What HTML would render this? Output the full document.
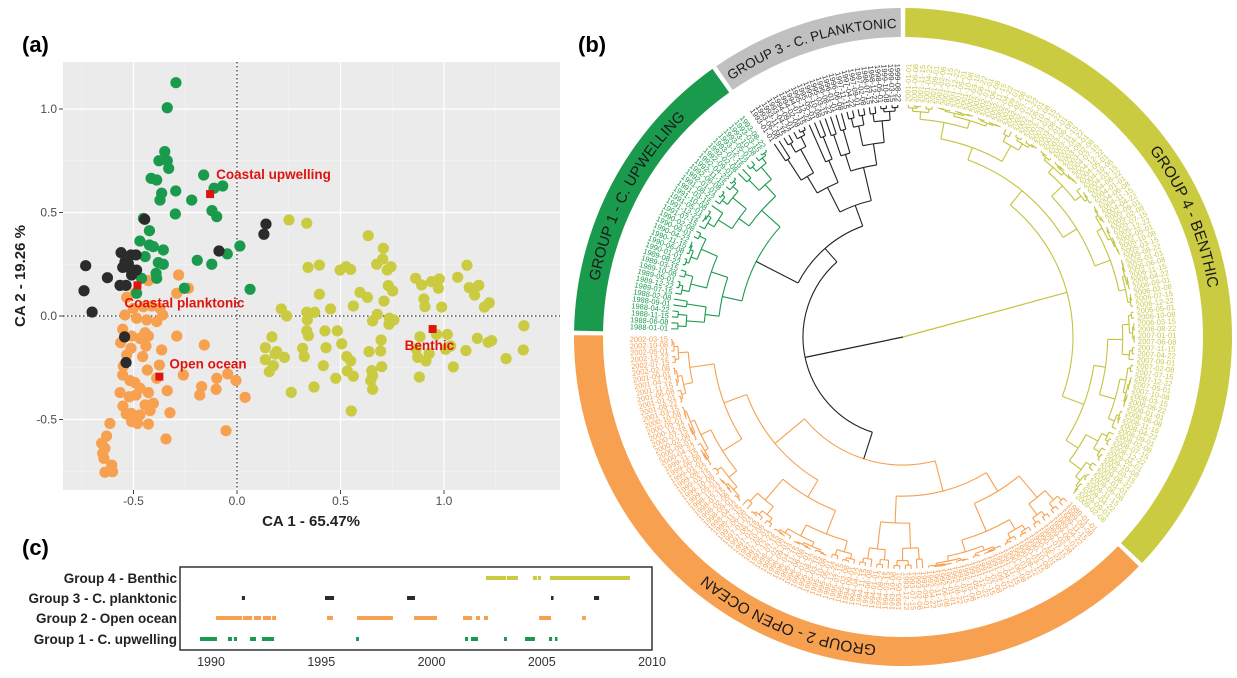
<!DOCTYPE html>
<html><head><meta charset="utf-8"><style>
html,body{margin:0;padding:0;background:#fff;}
svg{display:block;font-family:"Liberation Sans",sans-serif;}
</style></head><body>
<svg id="fig" width="1237" height="678" viewBox="0 0 1237 678">
<g id="pa"></g>
<g id="pb"></g>
<g id="pc"></g>
<text x="22" y="52" font-size="22" font-weight="bold">(a)</text>
<text x="578" y="52" font-size="22" font-weight="bold">(b)</text>
<text x="22" y="555" font-size="22" font-weight="bold">(c)</text>
</svg>
<script>
// ---------- Panel (a) data ----------
const greenX=[-0.295,-0.337,-0.349,-0.377,-0.337,-0.330,-0.415,-0.388,-0.364,-0.372,-0.296,-0.219,-0.161,-0.111,-0.069,-0.121,-0.098,-0.298,-0.452,-0.423,-0.469,-0.423,-0.404,-0.356,-0.444,-0.380,-0.356,-0.192,-0.122,-0.047,0.014,-0.391,-0.388,-0.461,-0.254,0.063,-0.485];
const greenY=[1.127,1.006,0.794,0.750,0.750,0.713,0.665,0.657,0.593,0.560,0.604,0.560,0.681,0.617,0.628,0.509,0.480,0.493,0.472,0.412,0.362,0.343,0.335,0.319,0.287,0.258,0.250,0.269,0.250,0.300,0.338,0.206,0.182,0.182,0.134,0.129,0.110];
const blackX=[-0.446,0.140,0.130,-0.087,-0.731,-0.560,-0.512,-0.488,-0.541,-0.552,-0.517,-0.485,-0.509,-0.626,-0.565,-0.536,-0.739,-0.700,-0.543,-0.536,-0.525];
const blackY=[0.467,0.444,0.395,0.314,0.243,0.306,0.295,0.295,0.262,0.235,0.230,0.222,0.198,0.185,0.148,0.148,0.122,0.019,-0.101,-0.225,0.254];
const orangeX=[-0.282,-0.291,-0.235,-0.428,-0.533,-0.493,-0.501,-0.452,-0.412,-0.372,-0.541,-0.485,-0.436,-0.388,-0.359,-0.552,-0.562,-0.509,-0.469,-0.444,-0.428,-0.440,-0.512,-0.456,-0.364,-0.291,-0.158,-0.533,-0.549,-0.552,-0.517,-0.493,-0.469,-0.433,-0.375,-0.388,-0.428,-0.337,-0.565,-0.520,-0.488,-0.551,-0.512,-0.535,-0.444,-0.404,-0.420,-0.469,-0.324,-0.509,-0.481,-0.428,-0.614,-0.630,-0.654,-0.638,-0.649,-0.643,-0.605,-0.638,-0.601,-0.343,-0.259,-0.180,-0.171,-0.098,-0.045,-0.005,-0.101,0.039,-0.053];
const orangeY=[0.198,0.110,0.134,0.171,0.090,0.110,0.037,0.045,0.048,0.037,0.005,-0.011,-0.019,-0.027,0.005,-0.064,-0.129,-0.097,-0.108,-0.081,-0.097,-0.145,-0.156,-0.196,-0.164,-0.097,-0.140,-0.188,-0.242,-0.285,-0.312,-0.322,-0.349,-0.261,-0.237,-0.301,-0.370,-0.361,-0.370,-0.390,-0.382,-0.435,-0.470,-0.473,-0.430,-0.422,-0.457,-0.478,-0.467,-0.510,-0.519,-0.522,-0.519,-0.580,-0.615,-0.639,-0.663,-0.688,-0.720,-0.755,-0.752,-0.594,-0.285,-0.382,-0.341,-0.301,-0.280,-0.312,-0.354,-0.393,-0.554];
const yellowX=[0.251,0.337,0.634,0.707,0.704,0.675,0.726,0.744,0.343,0.398,0.498,0.527,0.549,0.863,0.892,0.940,0.977,0.973,1.066,1.111,1.122,1.168,1.148,1.219,1.195,0.989,0.903,0.908,0.731,0.752,0.710,0.594,0.630,0.562,0.398,0.452,0.214,0.240,0.337,0.375,0.340,0.678,0.655,0.736,0.758,0.734,0.337,0.345,0.425,0.485,0.169,0.137,0.192,0.184,0.229,0.137,0.176,0.156,0.317,0.325,0.430,0.506,0.530,0.549,0.417,0.533,0.562,0.477,0.372,0.262,0.552,0.638,0.694,0.696,0.699,0.651,0.655,0.646,0.655,0.884,0.964,1.016,1.008,1.032,0.865,0.928,0.873,0.913,0.881,1.045,1.106,1.161,1.214,1.230,1.300,1.383,1.386];
const yellowY=[0.464,0.448,0.388,0.327,0.275,0.250,0.222,0.238,0.235,0.246,0.222,0.238,0.225,0.182,0.150,0.166,0.179,0.134,0.187,0.245,0.137,0.148,0.101,0.064,0.043,0.043,0.082,0.045,0.147,0.121,0.072,0.114,0.090,0.048,0.105,0.034,0.034,0.000,0.018,0.018,-0.019,0.008,-0.024,-0.011,-0.019,-0.040,-0.072,-0.095,-0.072,-0.072,-0.101,-0.153,-0.172,-0.184,-0.200,-0.211,-0.240,-0.269,-0.156,-0.196,-0.153,-0.134,-0.196,-0.217,-0.240,-0.266,-0.291,-0.301,-0.343,-0.369,-0.459,-0.172,-0.169,-0.116,-0.245,-0.264,-0.288,-0.312,-0.354,-0.100,-0.089,-0.089,-0.161,-0.145,-0.159,-0.182,-0.200,-0.217,-0.295,-0.246,-0.167,-0.108,-0.127,-0.119,-0.206,-0.164,-0.047];
const centroidNames=["Coastal upwelling","Coastal planktonic","Open ocean","Benthic"];
const centroidX=[-0.130,-0.481,-0.375,0.945];
const centroidY=[0.589,0.148,-0.293,-0.063];
const xTicks=[-0.5,0.0,0.5,1.0];
const yTicks=[-0.5,0.0,0.5,1.0];
const xTickLabels=["-0.5","0.0","0.5","1.0"];
const yTickLabels=["-0.5","0.0","0.5","1.0"];

// ---------- Panel (c) data ----------
const groupNames=["Group 4 - Benthic","Group 3 - C. planktonic","Group 2 - Open ocean","Group 1 - C. upwelling"];
const g4Start=[2002.47,2003.42,2004.6,2004.83,2005.37];
const g4End=[2003.38,2003.92,2004.78,2004.97,2009.0];
const g3Start=[1991.4,1995.17,1998.89,2005.42,2007.37];
const g3End=[1991.54,1995.58,1999.25,2005.51,2007.6];
const g2Start=[1990.23,1991.45,1991.95,1992.36,1992.77,1995.26,1996.62,1999.21,2001.43,2002.02,2002.38,2004.88,2006.83];
const g2End=[1991.41,1991.86,1992.27,1992.72,1992.95,1995.53,1998.25,2000.25,2001.84,2002.2,2002.56,2005.42,2007.0];
const g1Start=[1989.5,1990.77,1991.04,1991.77,1992.31,1996.58,2001.52,2001.79,2003.29,2004.24,2005.33,2005.6];
const g1End=[1990.27,1990.95,1991.18,1992.04,1992.86,1996.71,2001.66,2002.11,2003.42,2004.69,2005.47,2005.69];
const yearTicks=[1990,1995,2000,2005,2010];

// ---------- Panel (b) data ----------
const ringNames=["GROUP 1 - C. UPWELLING","GROUP 3 - C. PLANKTONIC","GROUP 4 - BENTHIC","GROUP 2 - OPEN OCEAN"];
const ringStart=[180.7,235,270,43.8];
const ringEnd=[235,270,403.8,180.7];
const leafCounts=[36,24,90,95];

const NS="http://www.w3.org/2000/svg";
function mk(parent,tag,attrs){const e=document.createElementNS(NS,tag);for(const k in attrs)e.setAttribute(k,attrs[k]);parent.appendChild(e);return e;}

// ===== Panel A =====
(function(){
const pa=document.getElementById('pa');
const L=63,R=560,T=62,B=490,X0=237,Y0=316,S=207;
const sx=v=>X0+v*S, sy=v=>Y0-v*S;
const bg=mk(pa,'rect',{x:L,y:T,width:R-L,height:B-T,fill:'#ebebeb'});


[-0.75,-0.25,0.25,0.75,1.25].forEach(v=>{const l=mk(pa,'line',{x1:sx(v),x2:sx(v),y1:T,y2:B,stroke:'#f5f5f5','stroke-width':0.6});});
[-0.75,-0.25,0.25,0.75].forEach(v=>{const l=mk(pa,'line',{x1:L,x2:R,y1:sy(v),y2:sy(v),stroke:'#f5f5f5','stroke-width':0.6});});
xTicks.forEach((v,i)=>{const l=mk(pa,'line',{x1:sx(v),x2:sx(v),y1:T,y2:B,stroke:'#fff','stroke-width':1.2});
 const tk=mk(pa,'line',{x1:sx(v),x2:sx(v),y1:B,y2:B+4,stroke:'#444'});
 const t=mk(pa,'text',{x:sx(v),y:B+15,'font-size':12,'text-anchor':'middle',fill:'#4d4d4d'});t.textContent=xTickLabels[i];});
yTicks.forEach((v,i)=>{const l=mk(pa,'line',{x1:L,x2:R,y1:sy(v),y2:sy(v),stroke:'#fff','stroke-width':1.2});
 const tk=mk(pa,'line',{x1:L-4,x2:L,y1:sy(v),y2:sy(v),stroke:'#444'});
 const t=mk(pa,'text',{x:L-6,y:sy(v)+4,'font-size':12,'text-anchor':'end',fill:'#4d4d4d'});t.textContent=yTickLabels[i];});
const zx=mk(pa,'line',{x1:sx(0),x2:sx(0),y1:T,y2:B,stroke:'#333','stroke-dasharray':'1.5,2.5','stroke-width':1.2});
const zy=mk(pa,'line',{x1:L,x2:R,y1:sy(0),y2:sy(0),stroke:'#333','stroke-dasharray':'1.5,2.5','stroke-width':1.2});
function pts(X,Y,col,name){X.forEach((v,i)=>{const c=mk(pa,'circle',{cx:sx(v),cy:sy(Y[i]),r:5.6,fill:col});});}
pts(orangeX,orangeY,'#f7a04f','point-open-ocean');
pts(yellowX,yellowY,'#cbcb42','point-benthic');
pts(greenX,greenY,'#1a9a4d','point-coastal-upwelling');
pts(blackX,blackY,'#2b2b2b','point-coastal-planktonic');
const off=[[6,-15],[-13,22],[10,-8],[-28,21]];
centroidX.forEach((v,i)=>{const r=mk(pa,'rect',{x:sx(v)-4,y:sy(centroidY[i])-4,width:8,height:8,fill:'#e0140f'});
 const t=mk(pa,'text',{x:sx(v)+off[i][0],y:sy(centroidY[i])+off[i][1],'font-size':13.5,'font-weight':'bold',fill:'#e0140f'});t.textContent=centroidNames[i];});
const xt=mk(pa,'text',{x:311,y:526,'font-size':15,'font-weight':'bold','text-anchor':'middle',fill:'#222'});xt.textContent='CA 1 - 65.47%';
const yt=mk(pa,'text',{x:0,y:0,'font-size':15,'font-weight':'bold','text-anchor':'middle',fill:'#222',transform:'translate(25,276) rotate(-90)'});yt.textContent='CA 2 - 19.26 %';
})();

// ===== Panel C =====
(function(){
const pc=document.getElementById('pc');
const sx=y=>211+(y-1990)*22.05;
const rowsY=[578,598,618,639];
const cols=['#cbcb42','#2b2b2b','#f7a04f','#1a9a4d'];
const starts=[g4Start,g3Start,g2Start,g1Start], ends=[g4End,g3End,g2End,g1End];
const box=mk(pc,'rect',{x:180,y:567,width:472,height:83,fill:'#fff',stroke:'#333','stroke-width':1.5});
groupNames.forEach((n,i)=>{const t=mk(pc,'text',{x:177,y:rowsY[i]+5,'font-size':13.5,'font-weight':'bold','text-anchor':'end',fill:'#222'});t.textContent=n;
 starts[i].forEach((s,j)=>{const r=mk(pc,'rect',{x:sx(s),y:rowsY[i]-2,width:Math.max(2.5,sx(ends[i][j])-sx(s)),height:4,fill:cols[i]});});});
yearTicks.forEach(y=>{const t=mk(pc,'text',{x:sx(y),y:666,'font-size':12.5,'text-anchor':'middle',fill:'#333'});t.textContent=y;});
})();

// ===== Panel B =====
(function(){
const pb=document.getElementById('pb');
const CX=903,CY=337,RL=232,R1=300,R2=329;
const rad=d=>d*Math.PI/180;
const P=(a,r)=>[CX+r*Math.cos(rad(a)),CY+r*Math.sin(rad(a))];
const ringCols=['#1a9a4d','#c0c0c0','#cbcb42','#f7a04f'];
const labCols=['#1a9a4d','#333','#c9c94a','#f4a050'];
const treeCols=['#1a9a4d','#222','#c3c33e','#f7a04f'];
const ringFont=[15,13.5,15.5,15.5];
ringNames.forEach((n,i)=>{const a0=ringStart[i]+0.4,a1=ringEnd[i]-0.4;const large=(a1-a0)>180?1:0;
 const p1=P(a0,R2),p2=P(a1,R2),p3=P(a1,R1),p4=P(a0,R1);
 const s=mk(pb,'path',{d:`M${p1}A${R2},${R2} 0 ${large} 1 ${p2}L${p3}A${R1},${R1} 0 ${large} 0 ${p4}Z`,fill:ringCols[i]});
 const rr=309;const q1=P(ringStart[i]-5,rr),q2=P(ringEnd[i]+5,rr);
 mk(pb,'path',{id:'rp'+i,d:`M${q1}A${rr},${rr} 0 ${(ringEnd[i]-ringStart[i]+10)>180?1:0} 1 ${q2}`,fill:'none'});
 const t=mk(pb,'text',{'font-size':ringFont[i],fill:'#1a1a1a','text-anchor':'middle'});
 const tp=mk(t,'textPath',{href:'#rp'+i,startOffset:'50%'});tp.textContent=n;
 });
const yrs=[[1988,1993],[1993,1999],[2001,2009],[1989,2002]];
const groupsLeaves=[];
leafCounts.forEach((c,g)=>{const a0=ringStart[g]+0.6,a1=ringEnd[g]-0.6;const arr=[];
 for(let k=0;k<c;k++){const a=a0+(a1-a0)*(k+0.5)/c;arr.push(a);
  const y=yrs[g][0]+Math.floor(k*(yrs[g][1]-yrs[g][0]+1)/c);const mo=String(1+(k*5)%12).padStart(2,'0');const dd=String(1+(k*7)%28).padStart(2,'0');
  const label=y+'-'+mo+'-'+dd;const na=((a%360)+360)%360;const left=na>90&&na<270;
  const [x,yy]=P(a,RL+3);
  const t=mk(pb,'text',{x:x,y:yy,'font-size':7.5,fill:labCols[g],'dominant-baseline':'middle','text-anchor':left?'end':'start',transform:`rotate(${left?a+180:a} ${x} ${yy})`});
  t.textContent=label;}
 groupsLeaves.push(arr);});
const ratios=[0.5,0.35,0.62,0.42,0.7,0.3,0.55,0.45];
let cnt=0;
function build(arr,r,g,depth){
 if(arr.length===1)return{a:arr[0],r:RL};
 const s=ratios[(cnt++)%ratios.length];let m=Math.max(1,Math.min(arr.length-1,Math.round(arr.length*s)));
 const f=depth<2?0.3:0.55;const cr=r+(RL-r)*f;
 const A=arr.slice(0,m),Bb=arr.slice(m);
 const c1=build(A,A.length===1?RL:cr,g,depth+1),c2=build(Bb,Bb.length===1?RL:cr+(RL-cr)*0.1,g,depth+1);
 return join(c1,c2,r,treeCols[g]);}
function join(c1,c2,r,col){
 const a=(c1.a+c2.a)/2;
 [c1,c2].forEach(c=>{const p=P(c.a,r),q=P(c.a,c.r);const l=mk(pb,'line',{x1:p[0],y1:p[1],x2:q[0],y2:q[1],stroke:col,'stroke-width':1.1});});
 const lo=Math.min(c1.a,c2.a),hi=Math.max(c1.a,c2.a);const p=P(lo,r),q=P(hi,r);
 const arc=mk(pb,'path',{d:`M${p}A${r},${r} 0 ${hi-lo>180?1:0} 1 ${q}`,fill:'none',stroke:col,'stroke-width':1.1});
 return{a:a,r:r};}
const gG=build(groupsLeaves[0],165,0,0);
const gK=build(groupsLeaves[1],140,1,0);
const gY=build(groupsLeaves[2],170,2,0);
const gO=build(groupsLeaves[3],128,3,0);
const C=join(gG,gK,118,'#222');
const Bn=join(gO,C,100,'#222');
const pY=P(gY.a,gY.r),pB=P(Bn.a,Bn.r);
const l1=mk(pb,'line',{x1:CX,y1:CY,x2:pY[0],y2:pY[1],stroke:'#c3c33e','stroke-width':1.2});
const l2=mk(pb,'line',{x1:CX,y1:CY,x2:pB[0],y2:pB[1],stroke:'#222','stroke-width':1.2});
})();
</script>
</body></html>
